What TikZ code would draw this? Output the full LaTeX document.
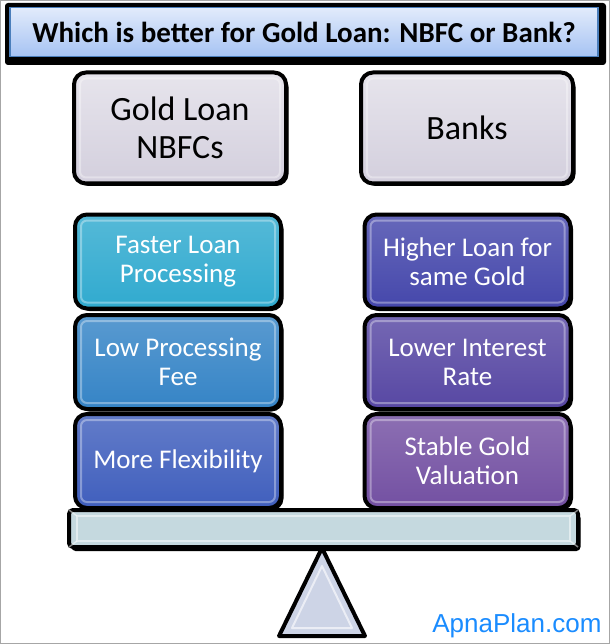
\documentclass[tikz,border=0pt]{standalone}
\usepackage{fontspec}
\setmainfont{Carlito}
\newfontfamily\webfont{Liberation Sans}
\usetikzlibrary{shadows}
\usetikzlibrary{positioning}
\usetikzlibrary{calc}

\definecolor{titleblue}{HTML}{4A7EBB}
\definecolor{titletop}{HTML}{E2EBFB}
\definecolor{titlebot}{HTML}{A6C3F3}
\definecolor{faster}{HTML}{30AACF}
\definecolor{lowfee}{HTML}{3584C6}
\definecolor{flex}{HTML}{405FBD}
\definecolor{higher}{HTML}{4547AB}
\definecolor{lower}{HTML}{5747A3}
\definecolor{stable}{HTML}{7350A2}
\definecolor{lavender}{HTML}{D3CFDD}
\definecolor{beam}{HTML}{C5D9DF}
\definecolor{pivot}{HTML}{CDD4E6}
\definecolor{web}{HTML}{1A8CFF}

\begin{document}
\begin{tikzpicture}[x=1pt, y=-1pt,
  pad/.style={rounded corners=12pt, draw=black, line width=4pt,
    minimum width=206pt, minimum height=94pt, align=center, text=white,
    font=\fontsize{27}{29}\selectfont,
    drop shadow={fill=black, opacity=1, shadow xshift=2.5pt, shadow yshift=-2.5pt}},
  head/.style={pad, minimum width=212pt, minimum height=111pt, text=black,
    top color=lavender!55!white, bottom color=lavender,
    font=\fontsize{34}{38}\selectfont},
  bevel/.style={rounded corners=6pt, draw=white, opacity=0.35, line width=2pt}]

  \useasboundingbox (0,0) rectangle (610,644);
  \fill[white] (0,0) rectangle (610,644);
  \draw[gray!70, line width=1pt] (0.5,0.5) rectangle (609.5,643.5);

  % title bar
  \fill[black, rounded corners=3pt] (5,3) rectangle (606,65);
  \node[draw=titleblue, line width=1.5pt, top color=titletop, bottom color=titlebot,
        minimum width=588pt, minimum height=49pt, font=\fontsize{29}{30}\selectfont\bfseries]
        (title) at (304,32) {Which is better for Gold Loan: NBFC or Bank?};

  % the two sides
  \node[head] (nbfc) at (180,128) {Gold Loan\\NBFCs};
  \node[head] (bank) at (467,128) {Banks};
  \foreach \name in {nbfc,bank} {
    \draw[bevel] ($(\name.north west)+(8,8)$) rectangle ($(\name.south east)+(-8,-8)$);
  }

  \foreach \n/\y/\lc/\ltxt/\rc/\rtxt in {
      1/261.5/faster/{Faster Loan\\Processing}/higher/{Higher Loan for\\same Gold},
      2/362/lowfee/{Low Processing\\Fee}/lower/{Lower Interest\\Rate},
      3/461/flex/{More Flexibility}/stable/{Stable Gold\\Valuation}} {
    \node[pad, top color=\lc!82!white, bottom color=\lc] (nbfc\n) at (178,\y) {\ltxt};
    \node[pad, top color=\rc!82!white, bottom color=\rc] (bank\n) at (467.5,\y) {\rtxt};
    \draw[bevel] ($(nbfc\n.north west)+(8,8)$) rectangle ($(nbfc\n.south east)+(-8,-8)$);
    \draw[bevel] ($(bank\n.north west)+(8,8)$) rectangle ($(bank\n.south east)+(-8,-8)$);
  }

  % beam and pivot
  \node[draw=black, line width=4pt, rounded corners=4pt, fill=beam,
        minimum width=509pt, minimum height=37pt,
        drop shadow={fill=black, opacity=1, shadow xshift=2.5pt, shadow yshift=-4pt}]
        (beam) at (323.5,528.5) {};
  \draw[bevel, rounded corners=0pt, opacity=0.5] ($(beam.north west)+(10,8)$) rectangle ($(beam.south east)+(-10,-8)$);
  \draw[white, opacity=0.5, line width=1.5pt]
        ($(beam.north west)+(2,2)$) -- ($(beam.north west)+(10,8)$)
        ($(beam.south west)+(2,-2)$) -- ($(beam.south west)+(10,-8)$)
        ($(beam.north east)+(-2,2)$) -- ($(beam.north east)+(-10,8)$)
        ($(beam.south east)+(-2,-2)$) -- ($(beam.south east)+(-10,-8)$);
  \filldraw[fill=pivot, draw=black, line width=4pt, line join=round]
        (322,548) -- (365,636) -- (279,636) -- cycle;
  \draw[white, opacity=0.6, line width=2pt, line join=round]
        (322,566) -- (352,628) -- (292,628) -- cycle;

  \node[text=web, font=\webfont\fontsize{26}{28}\selectfont, anchor=base east]
        (site) at (605,632) {ApnaPlan.com};
\end{tikzpicture}
\end{document}
